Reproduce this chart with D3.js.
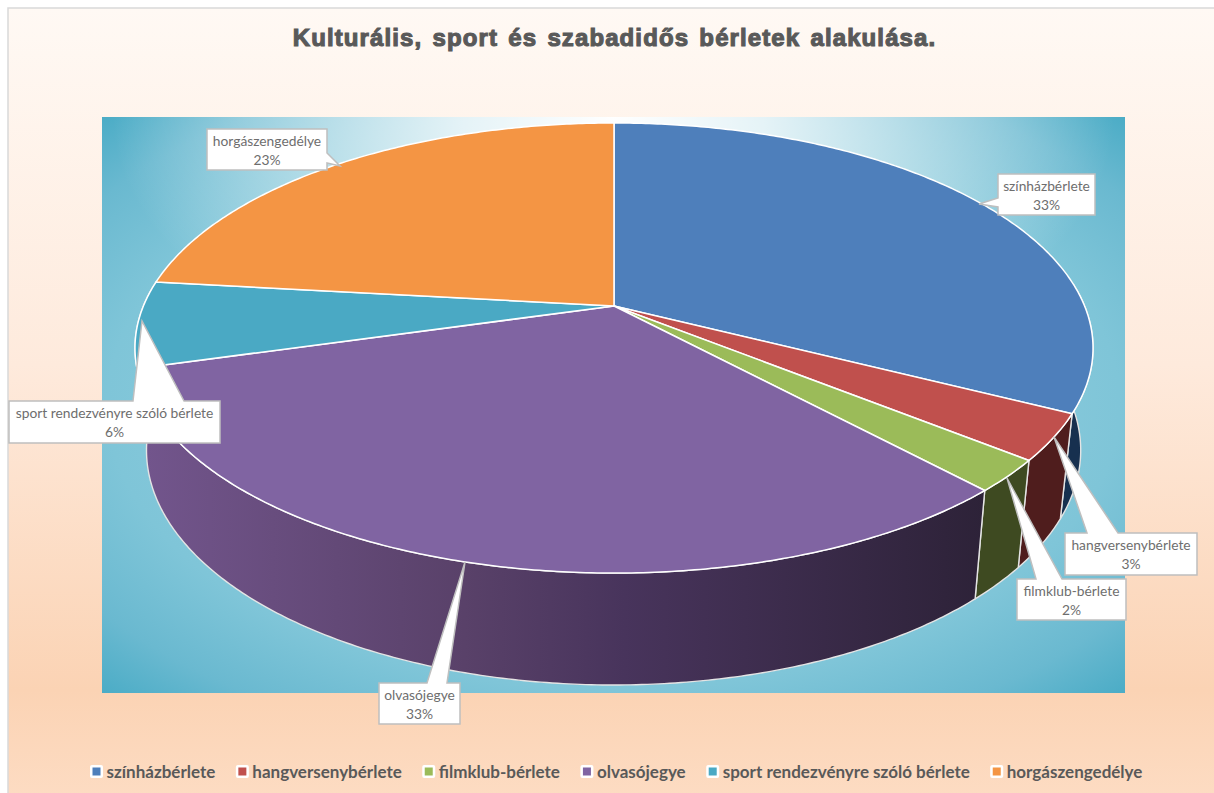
<!DOCTYPE html>
<html>
<head>
<meta charset="utf-8">
<title>Kulturális, sport és szabadidős bérletek alakulása</title>
<script src="https://cdn.jsdelivr.net/npm/d3@7"></script>
<style>
body { margin: 0; background: #fff; }
svg { display: block; }
text { font-family: Lato, sans-serif; }
</style>
</head>
<body>
<div id="chart"></div>
<script>
const titleText = "Kulturális, sport és szabadidős bérletek alakulása.";
const categories = ["színházbérlete", "hangversenybérlete", "filmklub-bérlete", "olvasójegye", "sport rendezvényre szóló bérlete", "horgászengedélye"];
const shares = [32.5, 3.3, 2.3, 32.5, 6.2, 23.2];

const topColors = ["#4e7fbb", "#c0504d", "#9bbb59", "#8064a2", "#4aa9c4", "#f49544"];
const wallColors = ["#17304f", "#4f1d1d", "#3e4a21", "url(#wallPurple)"];

// callout boxes, tip = where the pointer lands, base = where it leaves the box
const callouts = [
  { x0: 998, x1: 1095, y0: 174, y1: 215, side: "left", tip: [979, 204], base: [198, 207] },
  { x0: 1065, x1: 1197, y0: 533, y1: 575, side: "top", tip: [1054, 437], base: [1087, 1118] },
  { x0: 1017, x1: 1126, y0: 579, y1: 620, side: "top", tip: [1007, 478], base: [1036, 1062] },
  { x0: 379, x1: 460, y0: 683, y1: 724, side: "top", tip: [465, 562], base: [427, 447] },
  { x0: 9, x1: 220, y0: 401, y1: 443, side: "top", tip: [142, 321], base: [133, 184] },
  { x0: 207, x1: 327, y0: 129, y1: 170, side: "right", tip: [340, 166], base: [153, 163] }
];

const width = 1214, height = 793;
const plot = { x: 102, y: 117, w: 1023, h: 576 };

// perspective of the tilted disc
const tilt = -0.1867;
const xTop = d3.scaleLinear().domain([-1, 1]).range([143.4, 1084.6]);
const yTop = d3.scaleLinear().domain([-1, 1]).range([88.8, 523.2]);
const xBottom = d3.scaleLinear().domain([-1, 1]).range([154.7, 1072.5]);
const yBottom = d3.scaleLinear().domain([-1, 1]).range([180, 633]);

function rim(a, sx, sy) {
  let X = Math.sin(a), Y = -Math.cos(a), w = 1 + tilt * Y;
  return [sx(X / w), sy(Y / w)];
}
function arcPoints(a0, a1, sx, sy) {
  let n = Math.max(2, Math.ceil((a1 - a0) / 0.01));
  return d3.range(n + 1).map(i => rim(a0 + (a1 - a0) * i / n, sx, sy));
}

const line = d3.line();
const svg = d3.select("#chart").append("svg").attr("width", width).attr("height", height);
const defs = svg.append("defs");

function gradient(tag, id, attrs, stops) {
  let g = defs.append(tag).attr("id", id);
  Object.entries(attrs).forEach(([k, v]) => g.attr(k, v));
  stops.forEach(s => g.append("stop").attr("offset", s[0]).attr("stop-color", s[1]).attr("stop-opacity", s[2] === undefined ? 1 : s[2]));
}

gradient("linearGradient", "pageBg", { x1: 0, y1: 0, x2: 0, y2: 1 }, [
  [0, "#fff9f4"], [0.45, "#feeadc"], [0.86, "#fbd3b4"], [1, "#fddcc3"]
]);
gradient("radialGradient", "plotBase", { cx: 0.5, cy: 0.5, r: 0.7071 }, [
  [0, "#a8d8e5"], [0.7, "#7fc5d8"], [0.87, "#6ab9d0"], [1, "#4bacc6"]
]);
gradient("radialGradient", "plotGlow", { cx: 0.5, cy: 0, r: 0.49 }, [
  [0, "#fff", 1], [0.3, "#fff", 0.8], [0.6, "#fff", 0.45], [1, "#fff", 0]
]);
gradient("linearGradient", "wallPurple", { gradientUnits: "userSpaceOnUse", x1: 146, y1: 0, x2: 985, y2: 0 }, [
  [0, "#72558c"], [0.38, "#594169"], [0.57, "#48345c"], [1, "#2d2238"]
]);

// page and plot background
svg.append("rect").attr("x", 8).attr("y", 8).attr("width", width).attr("height", height)
  .attr("fill", "url(#pageBg)").attr("stroke", "#d9d9d9").attr("stroke-width", 1.5);
svg.append("rect").attr("x", plot.x).attr("y", plot.y).attr("width", plot.w).attr("height", plot.h).attr("fill", "url(#plotBase)");
svg.append("rect").attr("x", plot.x).attr("y", plot.y).attr("width", plot.w).attr("height", plot.h).attr("fill", "url(#plotGlow)");

svg.append("text").attr("x", 614.5).attr("y", 46)
  .attr("text-anchor", "middle")
  .style("font-family", "'Liberation Sans', sans-serif")
  .style("font-weight", "bold").style("font-size", "24px")
  .style("letter-spacing", "1.1px").style("word-spacing", "2.5px")
  .attr("fill", "#595959").attr("stroke", "#595959").attr("stroke-width", 1.1)
  .text(titleText);

const arcs = d3.pie().sort(null).value(d => d).startAngle(0).endAngle(2 * Math.PI)(shares);

// side walls, only the part turned towards the viewer; olvasójegye runs on to the left edge
const wallStart = Math.PI / 2 - 0.1;
arcs.slice(0, 4).forEach((d, i) => {
  let a0 = Math.max(d.startAngle, wallStart);
  let a1 = i === 3 ? arcs[4].endAngle : d.endAngle;
  let top = arcPoints(a0, a1, xTop, yTop);
  let bottom = arcPoints(a0, a1, xBottom, yBottom).reverse();
  svg.append("path").attr("d", line(top.concat(bottom)) + "Z")
    .attr("fill", wallColors[i]).attr("stroke", "#e4e4e4").attr("stroke-width", 1.4).attr("stroke-linejoin", "round");
});

// top face
svg.append("g").selectAll("path").data(arcs).join("path")
  .attr("d", d => line([[xTop(0), yTop(0)]].concat(arcPoints(d.startAngle, d.endAngle, xTop, yTop))) + "Z")
  .attr("fill", (d, i) => topColors[i])
  .attr("stroke", "#fff").attr("stroke-width", 1.5).attr("stroke-linejoin", "round");

// data labels
const pct = d3.format(".0f");
const label = svg.append("g").selectAll("g").data(callouts).join("g");
label.append("path")
  .attr("d", c => {
    let pts;
    if (c.side === "top") pts = [[c.x0, c.y0], [c.base[0], c.y0], c.tip, [c.base[1], c.y0], [c.x1, c.y0], [c.x1, c.y1], [c.x0, c.y1]];
    if (c.side === "left") pts = [[c.x0, c.y0], [c.x1, c.y0], [c.x1, c.y1], [c.x0, c.y1], [c.x0, c.base[1]], c.tip, [c.x0, c.base[0]]];
    if (c.side === "right") pts = [[c.x0, c.y0], [c.x1, c.y0], [c.x1, c.base[0]], c.tip, [c.x1, c.base[1]], [c.x1, c.y1], [c.x0, c.y1]];
    return line(pts) + "Z";
  })
  .attr("fill", "#fff").attr("stroke", "#bfbfbf").attr("stroke-width", 1.5);
label.append("text").attr("x", c => (c.x0 + c.x1) / 2).attr("y", c => c.y0 + 17)
  .attr("text-anchor", "middle").attr("fill", "#6e6e6e").style("font-size", "13.8px")
  .text((c, i) => categories[i]);
label.append("text").attr("x", c => (c.x0 + c.x1) / 2).attr("y", c => c.y0 + 35.5)
  .attr("text-anchor", "middle").attr("fill", "#6e6e6e").style("font-size", "13.8px")
  .text((c, i) => pct(shares[i]) + "%");

// legend, laid out from the measured text widths
let legendX = 91;
categories.forEach((name, i) => {
  let g = svg.append("g");
  g.append("rect").attr("x", legendX - 1).attr("y", 765).attr("width", 13).attr("height", 13).attr("rx", 2).attr("fill", "#fff");
  g.append("rect").attr("x", legendX + 1.5).attr("y", 767.5).attr("width", 8).attr("height", 8).attr("fill", topColors[i]);
  let t = g.append("text").attr("x", legendX + 15.5).attr("y", 777.5)
    .attr("fill", "#595959").style("font-size", "17px").style("font-weight", "bold").text(name);
  legendX += 15.5 + t.node().getComputedTextLength() + 21.5;
});
</script>
</body>
</html>
